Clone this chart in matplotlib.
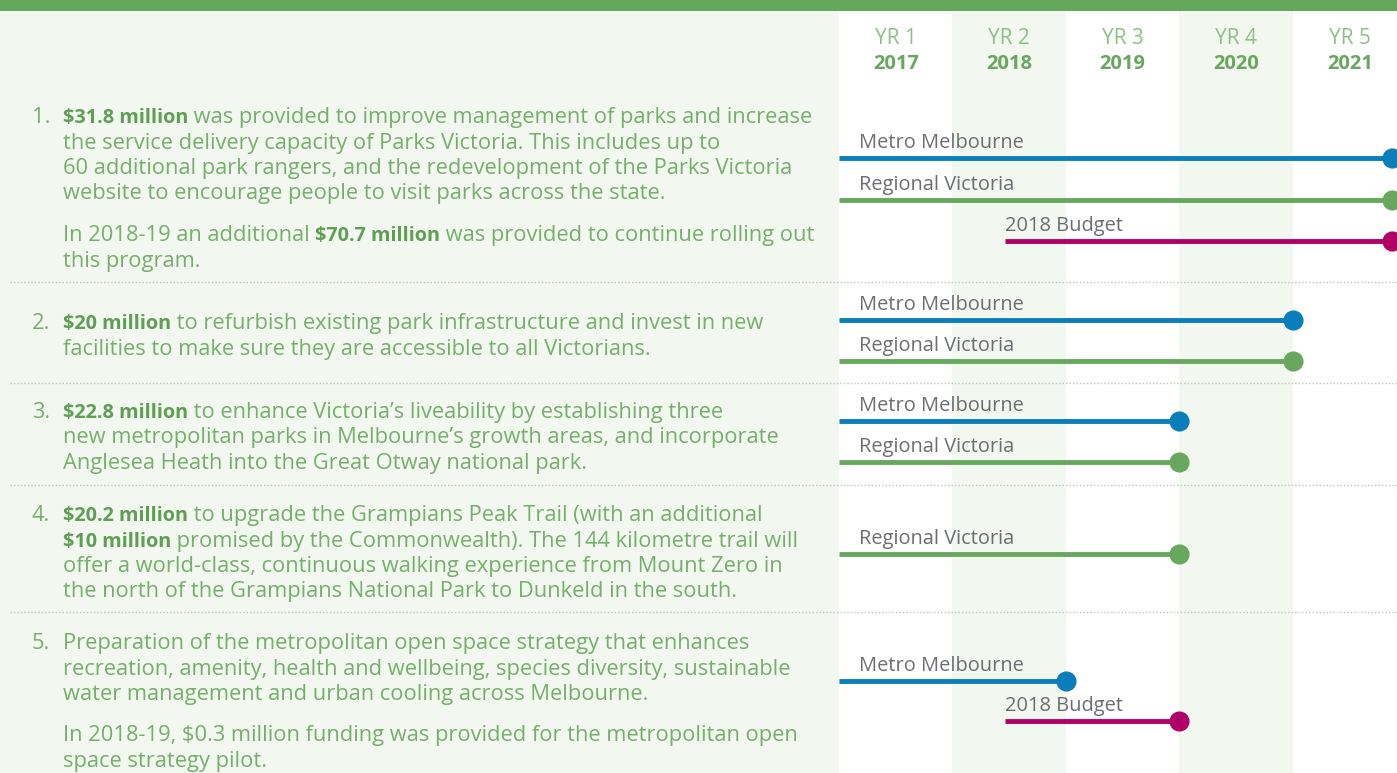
import matplotlib
matplotlib.use("Agg")
import matplotlib.pyplot as plt

# ---------------- data ----------------
years = [2017, 2018, 2019, 2020, 2021]
year_tags = ["YR 1", "YR 2", "YR 3", "YR 4", "YR 5"]

# left-hand descriptions (** marks bold)
item_numbers = ["1.", "2.", "3.", "4.", "5."]
item_paragraphs = [
    [["**$31.8 million** was provided to improve management of parks and increase",
      "the service delivery capacity of Parks Victoria. This includes up to",
      "60 additional park rangers, and the redevelopment of the Parks Victoria",
      "website to encourage people to visit parks across the state."],
     ["In 2018-19 an additional **$70.7 million** was provided to continue rolling out",
      "this program."]],
    [["**$20 million** to refurbish existing park infrastructure and invest in new",
      "facilities to make sure they are accessible to all Victorians."]],
    [["**$22.8 million** to enhance Victoria\u2019s liveability by establishing three",
      "new metropolitan parks in Melbourne\u2019s growth areas, and incorporate",
      "Anglesea Heath into the Great Otway national park."]],
    [["**$20.2 million** to upgrade the Grampians Peak Trail (with an additional",
      "**$10 million** promised by the Commonwealth). The 144 kilometre trail will",
      "offer a world-class, continuous walking experience from Mount Zero in",
      "the north of the Grampians National Park to Dunkeld in the south."]],
    [["Preparation of the metropolitan open space strategy that enhances",
      "recreation, amenity, health and wellbeing, species diversity, sustainable",
      "water management and urban cooling across Melbourne."],
     ["In 2018-19, $0.3 million funding was provided for the metropolitan open",
      "space strategy pilot."]],
]

# timeline segments
seg_item = [1, 1, 1, 2, 2, 3, 3, 4, 5, 5]
seg_label = ["Metro Melbourne", "Regional Victoria", "2018 Budget",
             "Metro Melbourne", "Regional Victoria",
             "Metro Melbourne", "Regional Victoria",
             "Regional Victoria",
             "Metro Melbourne", "2018 Budget"]
seg_start = [2017.0, 2017.0, 2018.46, 2017.0, 2017.0, 2017.0, 2017.0, 2017.0, 2017.0, 2018.46]
seg_end = [2021.87, 2021.87, 2021.87, 2021.0, 2021.0, 2020.0, 2020.0, 2020.0, 2019.0, 2020.0]

# ---------------- style / layout ----------------
W, H = 1397, 773
BG = "#f2f7f0"
TOPBAR = "#65a85b"
TXT = "#74b069"
TXT_B = "#5e9f53"
LBL = "#6d6e72"
SEP = "#b5cdae"
series_color = {"Metro Melbourne": "#0a7dbb",
                "Regional Victoria": "#68a85e",
                "2018 Budget": "#b00068"}
FONT = "Open Sans"
FS = 15.75
FS_B = 14.3

# pixel layout
seg_y = [158, 200, 241, 320, 361, 421, 462, 554, 681, 721]
item_first_baseline = [123, 329, 418, 521, 649]
para_gap = 16
line_h = 25.5
sep_y = [282, 383, 485, 612]
tl_left_px = 839

fig = plt.figure(figsize=(W / 100, H / 100), dpi=100)
fig.patch.set_facecolor(BG)

# background / text axes in pixel coords
bg = fig.add_axes([0, 0, 1, 1])
bg.set_xlim(0, W)
bg.set_ylim(H, 0)
bg.axis("off")
bg.set_zorder(0)
bg.patch.set_alpha(0)

# timeline axes
tl = fig.add_axes([tl_left_px / W, 0, 1 - tl_left_px / W, (H - 11) / H])
tl.set_zorder(1)
tl.patch.set_alpha(0)
x0 = years[0]
px_per_year = 113.5
tl.set_xlim(x0, x0 + (W - tl_left_px) / px_per_year)
tl.set_ylim(H, 11)
tl.axis("off")
for i, yv in enumerate(years):
    if i % 2 == 0:
        tl.axvspan(yv, yv + 1, color="white", zorder=0, lw=0)
    tl.text(yv + 0.5, 39, year_tags[i], ha="center", va="center", fontsize=15,
            family=FONT, color="#8cc183")
    tl.text(yv + 0.5, 64, str(yv), ha="center", va="center", fontsize=14.5,
            family=FONT, fontweight="bold", color="#68a85e")

for k in range(len(seg_label)):
    c = series_color[seg_label[k]]
    y = seg_y[k]
    tl.plot([seg_start[k], seg_end[k]], [y, y], color=c, lw=3.5,
            solid_capstyle="butt", zorder=3)
    tl.plot([seg_end[k]], [y], "o", color=c, ms=13.5, zorder=4, clip_on=False)
    dx = 20 if seg_start[k] == x0 else 0
    tl.annotate(seg_label[k], (seg_start[k], y), xytext=(dx, 5),
                textcoords="offset pixels", ha="left", va="bottom",
                fontsize=14.4, family=FONT, color=LBL, zorder=5)

# overlay axes for top bar and separators
ov = fig.add_axes([0, 0, 1, 1])
ov.set_xlim(0, W)
ov.set_ylim(H, 0)
ov.axis("off")
ov.set_zorder(2)
ov.patch.set_alpha(0)
ov.axhspan(0, 11, color=TOPBAR, lw=0)
for sy in sep_y:
    ov.plot([10, W], [sy, sy], color=SEP, lw=1.0, linestyle=(0, (1, 1.5)))

# left text with mixed bold
fig.canvas.draw()
renderer = fig.canvas.get_renderer()


def parse(line):
    parts = line.split("**")
    return [(p, i % 2 == 1) for i, p in enumerate(parts) if p]


def draw_line(x, y, line):
    for txt, bold in parse(line):
        t = bg.text(x, y, txt, fontsize=FS_B if bold else FS, family=FONT,
                    fontweight="bold" if bold else "normal",
                    color=TXT_B if bold else TXT, ha="left", va="baseline")
        bb = t.get_window_extent(renderer)
        x += bb.width


for i, paras in enumerate(item_paragraphs):
    y = item_first_baseline[i]
    bg.text(32, y, item_numbers[i], fontsize=FS, family=FONT, color=TXT,
            ha="left", va="baseline")
    for pi, para in enumerate(paras):
        if pi > 0:
            y += para_gap
        for line in para:
            draw_line(63, y, line)
            y += line_h

fig.savefig("out.png", dpi=100, facecolor=BG)
